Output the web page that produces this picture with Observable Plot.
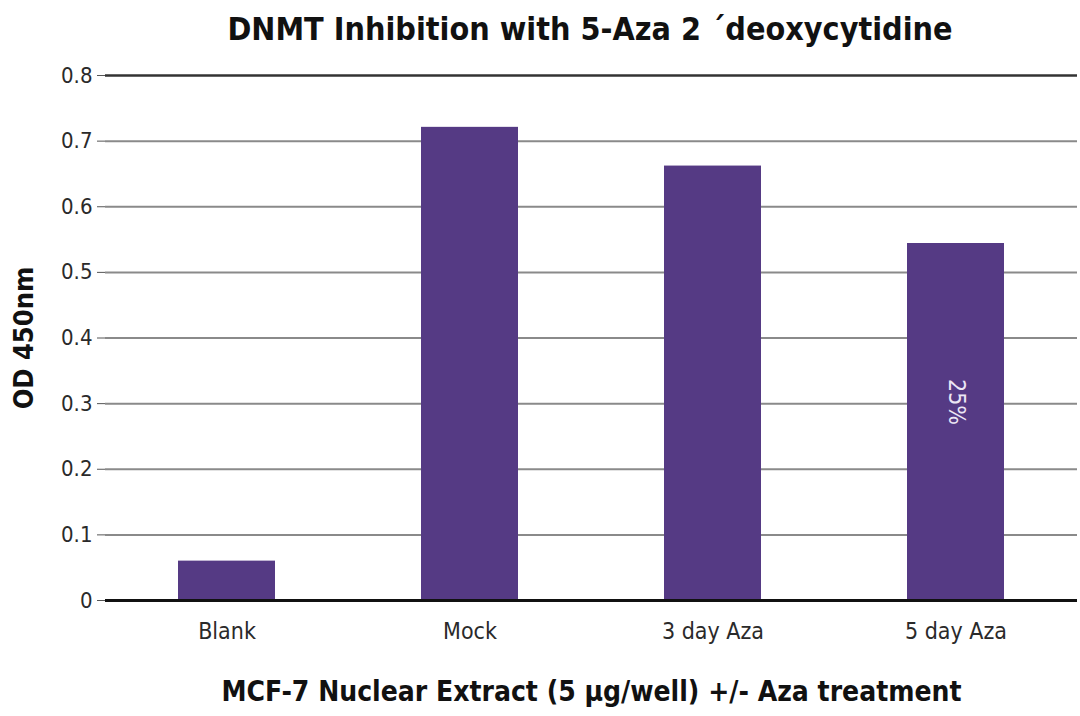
<!DOCTYPE html>
<html>
<head>
<meta charset="utf-8">
<script src="https://cdn.jsdelivr.net/npm/d3@7"></script>
<script src="https://cdn.jsdelivr.net/npm/@observablehq/plot@0.6"></script>
<style>
  html, body { margin: 0; padding: 0; background: #fff; }
  body { width: 1080px; height: 716px; overflow: hidden; font-family: "Liberation Sans Narrow", "DejaVu Sans Condensed", sans-serif; }
  #title { height: 60px; line-height: 58px; text-align: center; font-weight: bold; font-size: 32px; color: #111; padding-left: 100px; box-sizing: border-box; }
  #chart svg { display: block; }
  g[aria-label="y-axis label"] text { font-size: 27px; font-weight: bold; fill: #111; }
  g[aria-label="x-axis label"] text { font-size: 28px; font-weight: bold; fill: #111; }
</style>
</head>
<body>
<div id="title">DNMT Inhibition with 5-Aza 2 ´deoxycytidine</div>
<div id="chart"></div>
<script>
const categories = ["Blank", "Mock", "3 day Aza", "5 day Aza"];
const odValues = [0.06, 0.721, 0.662, 0.544];
const yTicks = [0, 0.1, 0.2, 0.3, 0.4, 0.5, 0.6, 0.7, 0.8];
const annotations = [{category: "5 day Aza", text: "25%"}];

const data = categories.map((c, i) => ({category: c, value: odValues[i]}));
const valueOf = c => data.find(d => d.category === c).value;

const barColor = "#553a84";

const frameMarks = Plot.dot([0], {
  render: (index, scales, values, dims) => {
    const g = d3.create("svg:g");
    const x = scales.x, bw = x.bandwidth();
    const left = dims.marginLeft;
    const top = dims.marginTop, bottom = dims.height - dims.marginBottom;
    g.append("line").attr("x1", left).attr("x2", left).attr("y1", top).attr("y2", bottom + 1)
      .attr("stroke", "#222").attr("stroke-width", 2.5);
    const centers = categories.map(c => x(c) + bw / 2);
    const bounds = [left];
    for (let i = 0; i < centers.length - 1; i++) bounds.push((centers[i] + centers[i + 1]) / 2);
    bounds.forEach(b => g.append("line").attr("x1", b).attr("x2", b).attr("y1", bottom).attr("y2", bottom + 7)
      .attr("stroke", "#555").attr("stroke-width", 1.5));
    return g.node();
  }
});

const chart = Plot.plot({
  width: 1080,
  height: 656,
  marginTop: 15,
  marginBottom: 116,
  marginLeft: 105,
  marginRight: 3,
  style: {fontFamily: '"Liberation Sans Narrow", "DejaVu Sans Condensed", sans-serif', fontSize: "22px", color: "#2a2a2a", background: "#fff"},
  x: {domain: categories, paddingInner: 0.6, paddingOuter: 0.3},
  y: {domain: [0, 0.8]},
  marks: [
    Plot.gridY(yTicks.filter(t => t > 0 && t < 0.8), {stroke: "#8a8a8a", strokeOpacity: 1, strokeWidth: 2}),
    Plot.ruleY([0.8], {stroke: "#333", strokeWidth: 2.5}),
    Plot.barY(data, {x: "category", y: "value", fill: barColor}),
    Plot.ruleY([0], {stroke: "#111", strokeWidth: 3}),
    frameMarks,
    Plot.axisY(yTicks, {
      tickSize: 8, tickPadding: 5, stroke: "#555",
      tickFormat: d => d === 0 ? "0" : d.toFixed(1),
      label: "OD 450nm", labelAnchor: "center", labelArrow: "none", labelOffset: 92,
      fontSize: 22
    }),
    Plot.axisX({
      tickSize: 0, tickPadding: 22, fontSize: 23,
      label: "MCF-7 Nuclear Extract (5 µg/well) +/- Aza treatment", labelAnchor: "center", labelArrow: "none", labelOffset: 100
    }),
    Plot.text(annotations, {
      x: "category", y: d => valueOf(d.category) / 2, text: "text",
      rotate: 90, dy: -20, fill: "#ece6f5", fontSize: 23
    })
  ]
});
document.getElementById("chart").appendChild(chart);
</script>
</body>
</html>
